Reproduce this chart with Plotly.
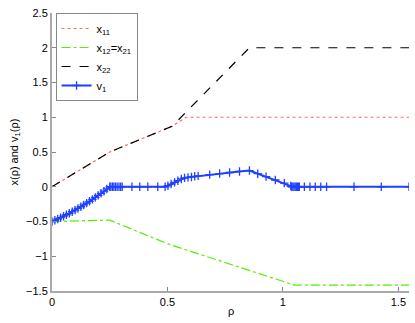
import plotly.graph_objects as go

# x11 (red dotted)
x11_rho = [0.0, 0.25, 0.52, 0.58, 1.546]
x11_val = [0.0, 0.5, 0.87, 1.0, 1.0]

# x12 = x21 (green dash-dot)
x12_rho = [0.0, 0.25, 0.5, 1.05, 1.546]
x12_val = [-0.5, -0.48, -0.82, -1.415, -1.415]

# x22 (black dashed)
x22_rho = [0.0, 0.25, 0.52, 0.855, 1.546]
x22_val = [0.0, 0.5, 0.87, 2.0, 2.0]

# v1 (blue, + markers)
v1_rho = [0.0, 0.0125, 0.025, 0.0375, 0.05, 0.0625, 0.075, 0.0875, 0.1, 0.1125,
          0.125, 0.1375, 0.15, 0.1625, 0.175, 0.1875, 0.2, 0.2125, 0.225, 0.2375,
          0.25, 0.255, 0.262, 0.268, 0.275, 0.282, 0.29, 0.297, 0.304,
          0.346, 0.38, 0.415, 0.458, 0.49,
          0.502, 0.516, 0.531, 0.545, 0.56, 0.574, 0.589, 0.604, 0.618, 0.633,
          0.683, 0.726, 0.769, 0.812, 0.855,
          0.891, 0.927, 0.967, 1.006, 1.034,
          1.038, 1.043, 1.048, 1.053, 1.058, 1.063, 1.068, 1.071,
          1.093, 1.117, 1.14, 1.164, 1.189, 1.308, 1.426, 1.546]
v1_val = [-0.5, -0.482, -0.464, -0.444, -0.424, -0.403, -0.382, -0.359, -0.336, -0.312,
          -0.288, -0.262, -0.236, -0.209, -0.182, -0.153, -0.124, -0.094, -0.064, -0.032,
          0.0, 0.0, 0.0, 0.0, 0.0, 0.0, 0.0, 0.0, 0.0,
          0.0, 0.0, 0.0, 0.0, 0.0,
          0.015, 0.039, 0.063, 0.087, 0.112, 0.127, 0.135, 0.141, 0.15, 0.156,
          0.175, 0.19, 0.205, 0.22, 0.233,
          0.188, 0.145, 0.097, 0.052, 0.01,
          0.0, 0.0, 0.0, 0.0, 0.0, 0.0, 0.0, 0.0,
          0.0, 0.0, 0.0, 0.0, 0.0, 0.0, 0.0, 0.0]

y_ticks = [-1.5, -1, -0.5, 0, 0.5, 1, 1.5, 2, 2.5]
y_labels = ["−1.5", "−1", "−0.5", "0", "0.5", "1", "1.5", "2", "2.5"]
x_ticks = [0, 0.5, 1, 1.5]
x_labels = ["0", "0.5", "1", "1.5"]

FONT = "Liberation Sans, Arial, sans-serif"
BLUE = "#2040ff"

fig = go.Figure()
fig.add_trace(go.Scatter(x=x11_rho, y=x11_val, mode="lines", name="x<sub>11</sub>",
                         line=dict(color="#ff6a6a", dash="dot", width=1.2)))
fig.add_trace(go.Scatter(x=x12_rho, y=x12_val, mode="lines", name="x<sub>12</sub>=x<sub>21</sub>",
                         line=dict(color="#55ee00", dash="dashdot", width=1.2)))
fig.add_trace(go.Scatter(x=x22_rho, y=x22_val, mode="lines", name="x<sub>22</sub>",
                         line=dict(color="#000000", dash="dash", width=1.2)))
fig.add_trace(go.Scatter(x=v1_rho, y=v1_val, mode="lines+markers", name="v<sub>1</sub>",
                         line=dict(color=BLUE, width=2),
                         marker=dict(symbol="cross-thin", size=6,
                                     line=dict(color=BLUE, width=1.3))))

fig.update_layout(
    width=415, height=323,
    margin=dict(l=52, r=6, t=13, b=32),
    paper_bgcolor="white", plot_bgcolor="white",
    font=dict(family=FONT, size=11, color="black"),
    showlegend=True,
    legend=dict(x=0.01, y=1.0, xanchor="left", yanchor="top",
                bgcolor="white", bordercolor="#888888", borderwidth=1,
                font=dict(family=FONT, size=11), tracegroupgap=0),
    annotations=[
        dict(text="ρ", xref="paper", yref="paper", x=0.5, y=-0.072,
             xanchor="center", yanchor="middle", showarrow=False,
             font=dict(family=FONT, size=11)),
        dict(text="x(ρ) and v<sub>1</sub>(ρ)", xref="paper", yref="paper",
             x=-0.105, y=0.5, xanchor="center", yanchor="middle", textangle=-90,
             showarrow=False, font=dict(family=FONT, size=11)),
    ],
)
fig.update_xaxes(range=[0, 1.546], tickvals=x_ticks, ticktext=x_labels,
                 showgrid=False, zeroline=False, showline=True, linecolor="#aaaaaa",
                 linewidth=2, ticks="inside", ticklen=4, tickcolor="#888888",
                 automargin=False)
fig.update_yaxes(range=[-1.5, 2.5], tickvals=y_ticks, ticktext=y_labels,
                 showgrid=False, zeroline=False, showline=True, linecolor="#aaaaaa",
                 linewidth=2, ticks="inside", ticklen=4, tickcolor="#888888",
                 automargin=False)

fig.write_html("out.html", config={"displayModeBar": False},
               post_script="document.body.style.margin='0';document.body.style.overflow='hidden';")
